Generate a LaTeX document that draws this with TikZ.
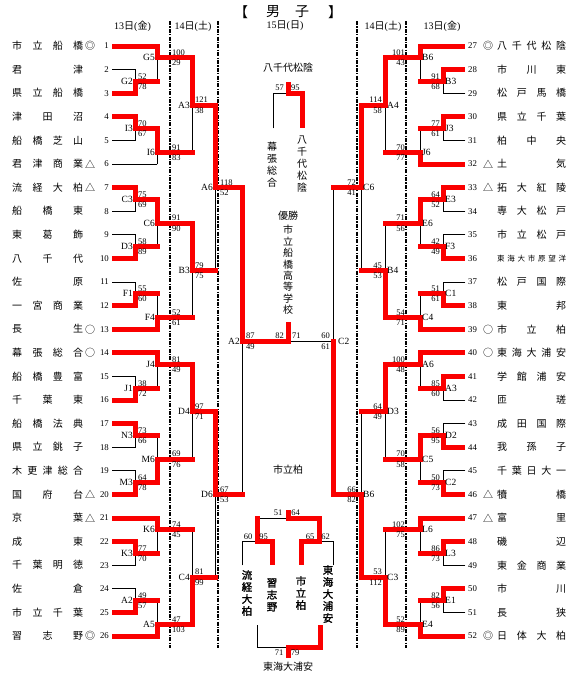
\documentclass[tikz,border=0pt]{standalone}
\usepackage{fontspec}
\setmainfont{Liberation Serif}
\newfontfamily\jp{Noto Sans CJK JP}
\newfontfamily\jpb{Noto Sans CJK JP}[FakeBold=1.5]
\pgfdeclarelayer{bg}
\pgfsetlayers{bg,main}
\definecolor{wred}{RGB}{250,0,0}
\tikzset{
  win/.style={draw=wred, line width=5pt, line cap=rect, line join=miter},
  lose/.style={draw=black, line width=0.9pt, line cap=rect},
  sc/.style={font=\fontsize{8.5}{9}\selectfont, inner sep=0pt},
  lb/.style={font=\fontsize{9.5}{10}\selectfont, inner sep=0pt},
  nm/.style={font=\jp\fontsize{10}{10}\selectfont, inner sep=0pt},
  tnum/.style={font=\fontsize{8.8}{10}\selectfont, inner sep=0pt},
  mk/.style={font=\jp\fontsize{10}{10}\selectfont, inner sep=0pt},
  dd/.style={line width=1.1pt, dash pattern=on 4pt off 1.3pt on 1.2pt off 1.3pt},
  vt/.style={font=\jp\fontsize{10}{12}\selectfont, align=center, inner sep=0pt},
  vtc/.style={font=\jp\fontsize{10}{11.4}\selectfont, align=center, inner sep=0pt},
  vtb/.style={font=\jpb\fontsize{10.5}{12}\selectfont, align=center, inner sep=0pt},
  ht/.style={font=\jp\fontsize{10}{10}\selectfont, inner sep=0pt},
  dt/.style={font=\fontsize{10}{10}\selectfont, inner sep=0pt},
}
% left match: X, Xnext, kwin, klose, kout, label, upper score, lower score, score x
\newcommand\LM[9]{%
  \begin{pgfonlayer}{bg}\draw[lose] (#1,#4) -- (#1,#5);\end{pgfonlayer}
  \draw[win] (#1,#3) -- (#1,#5) -- (#2,#5);
  \node[lb,anchor=east,xshift=-2pt] (L#1#6) at (#1,#5) {#6};
  \node[sc,anchor=base west,yshift=2.2pt] (L#1#6u) at (#9,#5) {#7};
  \node[sc,anchor=north west,yshift=-2.2pt] (L#1#6d) at (#9,#5) {#8};
}
\newcommand\RM[9]{%
  \begin{pgfonlayer}{bg}\draw[lose] (#1,#4) -- (#1,#5);\end{pgfonlayer}
  \draw[win] (#1,#3) -- (#1,#5) -- (#2,#5);
  \node[lb,anchor=west,xshift=2pt] (R#1#6) at (#1,#5) {#6};
  \node[sc,anchor=base east,yshift=2.2pt] (R#1#6u) at (#9,#5) {#7};
  \node[sc,anchor=north east,yshift=-2.2pt] (R#1#6d) at (#9,#5) {#8};
}
% team: number, name, mark, X, w/l
\newcommand\LT[5]{%
  \pgfmathtruncatemacro\kk{2*(#1-1)}%
  \node[nm,anchor=west] (ln#1) at (12,\kk) {\makebox[71pt]{#2}};
  \node[mk] (lm#1) at (90,\kk) {#3};
  \node[tnum,anchor=east] (lt#1) at (109,\kk) {#1};
  \if#5w\draw[win] (114.5,\kk) -- (#4,\kk);
  \else\begin{pgfonlayer}{bg}\draw[lose] (112,\kk) -- (#4,\kk);\end{pgfonlayer}\fi
}
\newcommand\RT[5]{%
  \pgfmathtruncatemacro\kk{2*(#1-27)}%
  \node[nm,anchor=west] (rn#1) at (497,\kk) {\makebox[69pt]{#2}};
  \node[mk] (rm#1) at (488,\kk) {#3};
  \node[tnum,anchor=west] (rt#1) at (468,\kk) {#1};
  \if#5w\draw[win] (462.5,\kk) -- (#4,\kk);
  \else\begin{pgfonlayer}{bg}\draw[lose] (465,\kk) -- (#4,\kk);\end{pgfonlayer}\fi
}
\begin{document}
\begin{tikzpicture}[x=1pt,y=-1pt]
\useasboundingbox (0,0) rectangle (578,680);
\begin{pgfonlayer}{bg}
\fill[white] (0,0) rectangle (578,680);
\foreach \xx in {170,218,357,406} \draw[dd] (\xx,21) -- (\xx,648);
\end{pgfonlayer}
% title and dates
\node[font=\jp\fontsize{14}{14}\selectfont, inner sep=0pt] (t1) at (241,12) {【};
\node[font=\jp\fontsize{14}{14}\selectfont, inner sep=0pt] (t2) at (273,12) {男};
\node[font=\jp\fontsize{14}{14}\selectfont, inner sep=0pt] (t3) at (302,12) {子};
\node[font=\jp\fontsize{14}{14}\selectfont, inner sep=0pt] (t4) at (335,12) {】};
\node[dt] (d1) at (132.5,26) {13{\jp 日}({\jp 金})};
\node[dt] (d2) at (193,26) {14{\jp 日}({\jp 土})};
\node[dt] (d3) at (285,26) {15{\jp 日}({\jp 日})};
\node[dt] (d4) at (383,26) {14{\jp 日}({\jp 土})};
\node[dt] (d5) at (442,26) {13{\jp 日}({\jp 金})};
% top centre match
\node[ht] (yc) at (288,68) {八千代松陰};
\begin{pgfonlayer}{bg}\draw[lose] (273,128) -- (273,93) -- (288,93);\end{pgfonlayer}
\draw[win] (302,125.5) -- (302,93) -- (288,93) -- (288,84.5);
\node[sc,anchor=base east] (s57) at (284,90.5) {57};
\node[sc,anchor=base west] (s95) at (291,90.5) {95};
\node[vt] (vmk) at (272,164.5) {幕\\張\\総\\合};
\node[vt] (vyc) at (302,164) {八\\千\\代\\松\\陰};
% champion
\node[ht] (yusho) at (288,215.5) {優勝};
\node[vtc] (champ) at (288,270) {市\\立\\船\\橋\\高\\等\\学\\校};
\node[ht] (ichika) at (288,470) {市立柏};
% bottom centre brackets
\begin{pgfonlayer}{bg}
\draw[lose] (242,565) -- (242,541) -- (257,541);
\draw[lose] (257,518) -- (288,518);
\draw[lose] (333,565) -- (333,541) -- (319,541);
\draw[lose] (257,625) -- (257,647) -- (288,647);
\end{pgfonlayer}
\draw[win] (272,562.5) -- (272,541) -- (257,541) -- (257,518);
\draw[win] (301,562.5) -- (301,541) -- (319,541) -- (319,518) -- (288,518) -- (288,512.5);
\draw[win] (320,627.5) -- (320,647) -- (288,647) -- (288,655.5);
\node[sc] (b51) at (278,513) {51};
\node[sc] (b64) at (295.5,513) {64};
\node[sc] (b60) at (248,536.5) {60};
\node[sc] (b95) at (263.5,536.5) {95};
\node[sc] (b65) at (310,536.5) {65};
\node[sc] (b62) at (325.5,536.5) {62};
\node[sc] (b71) at (279,652.5) {71};
\node[sc] (b79) at (295,653) {79};
\node[vtb] (bt1) at (247,593) {流\\経\\大\\柏};
\node[vtb] (bt2) at (272,595) {習\\志\\野};
\node[vtb] (bt3) at (301,593) {市\\立\\柏};
\node[vtb] (bt4) at (328,594) {東\\海\\大\\浦\\安};
\node[ht] (third) at (288,667) {東海大浦安};
% ---------------- grid part
\begin{scope}[y=-11.8pt,yshift=-46pt]
% left teams
\LT{1}{市\hfill 立\hfill 船\hfill 橋}{◎}{157}{w}
\LT{2}{君\hfill 津}{}{135}{l}
\LT{3}{県\hfill 立\hfill 船\hfill 橋}{}{135}{w}
\LT{4}{津\hfill 田\hfill 沼}{}{135}{w}
\LT{5}{船\hfill 橋\hfill 芝\hfill 山}{}{135}{l}
\LT{6}{君\hfill 津\hfill 商\hfill 業}{△}{157}{l}
\LT{7}{流\hfill 経\hfill 大\hfill 柏}{△}{135}{w}
\LT{8}{船\hfill 橋\hfill 東}{}{135}{l}
\LT{9}{東\hfill 葛\hfill 飾}{}{135}{l}
\LT{10}{八\hfill 千\hfill 代}{}{135}{w}
\LT{11}{佐\hfill 原}{}{135}{l}
\LT{12}{一\hfill 宮\hfill 商\hfill 業}{}{135}{w}
\LT{13}{長\hfill 生}{○}{157}{w}
\LT{14}{幕\hfill 張\hfill 総\hfill 合}{○}{157}{w}
\LT{15}{船\hfill 橋\hfill 豊\hfill 富}{}{135}{l}
\LT{16}{千\hfill 葉\hfill 東}{}{135}{w}
\LT{17}{船\hfill 橋\hfill 法\hfill 典}{}{135}{w}
\LT{18}{県\hfill 立\hfill 銚\hfill 子}{}{135}{l}
\LT{19}{木\hfill 更\hfill 津\hfill 総\hfill 合}{}{135}{l}
\LT{20}{国\hfill 府\hfill 台}{△}{135}{w}
\LT{21}{京\hfill 葉}{△}{157}{w}
\LT{22}{成\hfill 東}{}{135}{w}
\LT{23}{千\hfill 葉\hfill 明\hfill 徳}{}{135}{l}
\LT{24}{佐\hfill 倉}{}{135}{l}
\LT{25}{市\hfill 立\hfill 千\hfill 葉}{}{135}{w}
\LT{26}{習\hfill 志\hfill 野}{◎}{157}{w}
% right teams
\RT{27}{八\hfill 千\hfill 代\hfill 松\hfill 陰}{◎}{420}{w}
\RT{28}{市\hfill 川\hfill 東}{}{443}{w}
\RT{29}{松\hfill 戸\hfill 馬\hfill 橋}{}{443}{l}
\RT{30}{県\hfill 立\hfill 千\hfill 葉}{}{443}{w}
\RT{31}{柏\hfill 中\hfill 央}{}{443}{l}
\RT{32}{土\hfill 気}{△}{420}{w}
\RT{33}{拓\hfill 大\hfill 紅\hfill 陵}{△}{443}{w}
\RT{34}{専\hfill 大\hfill 松\hfill 戸}{}{443}{l}
\RT{35}{市\hfill 立\hfill 松\hfill 戸}{}{443}{l}
\RT{36}{\fontsize{7.5}{8}\selectfont 東\hfill 海\hfill 大\hfill 市\hfill 原\hfill 望\hfill 洋}{}{443}{w}
\RT{37}{松\hfill 戸\hfill 国\hfill 際}{}{443}{l}
\RT{38}{東\hfill 邦}{}{443}{w}
\RT{39}{市\hfill 立\hfill 柏}{○}{420}{w}
\RT{40}{東\hfill 海\hfill 大\hfill 浦\hfill 安}{○}{420}{w}
\RT{41}{学\hfill 館\hfill 浦\hfill 安}{}{443}{w}
\RT{42}{匝\hfill 瑳}{}{443}{l}
\RT{43}{成\hfill 田\hfill 国\hfill 際}{}{443}{l}
\RT{44}{我\hfill 孫\hfill 子}{}{443}{w}
\RT{45}{千\hfill 葉\hfill 日\hfill 大\hfill 一}{}{443}{l}
\RT{46}{犢\hfill 橋}{△}{443}{w}
\RT{47}{富\hfill 里}{△}{420}{w}
\RT{48}{磯\hfill 辺}{}{443}{w}
\RT{49}{東\hfill 金\hfill 商\hfill 業}{}{443}{l}
\RT{50}{市\hfill 川}{}{443}{w}
\RT{51}{長\hfill 狭}{}{443}{l}
\RT{52}{日\hfill 体\hfill 大\hfill 柏}{◎}{420}{w}
% left round 1
\LM{135}{157}{4}{2}{3}{G2}{52}{78}{138}
\LM{135}{157}{6}{8}{7}{I3}{70}{67}{138}
\LM{135}{157}{12}{14}{13}{C3}{75}{69}{138}
\LM{135}{157}{18}{16}{17}{D3}{58}{89}{138}
\LM{135}{157}{22}{20}{21}{F1}{55}{60}{138}
\LM{135}{157}{30}{28}{29}{J1}{38}{72}{138}
\LM{135}{157}{32}{34}{33}{N3}{73}{66}{138}
\LM{135}{157}{38}{36}{37}{M3}{64}{78}{138}
\LM{135}{157}{42}{44}{43}{K3}{77}{70}{138}
\LM{135}{157}{48}{46}{47}{A2}{49}{57}{138}
% left round 2
\LM{157}{192}{0}{3}{1}{G5}{100}{29}{172}
\LM{157}{192}{7}{10}{9}{I6}{91}{83}{172}
\LM{157}{192}{13}{17}{15}{C6}{91}{90}{172}
\LM{157}{192}{24}{21}{23}{F4}{52}{61}{172}
\LM{157}{192}{26}{29}{27}{J4}{81}{49}{172}
\LM{157}{192}{37}{33}{35}{M6}{69}{76}{172}
\LM{157}{192}{40}{43}{41}{K6}{74}{45}{172}
\LM{157}{192}{50}{47}{49}{A5}{47}{103}{172}
% left round 3
\LM{192}{215}{1}{9}{5}{A3}{121}{38}{195}
\LM{192}{215}{15}{23}{19}{B3}{79}{75}{195}
\LM{192}{215}{27}{35}{31}{D4}{97}{71}{195}
\LM{192}{215}{49}{41}{45}{C4}{81}{99}{195}
% left round 4
\LM{215}{242}{5}{19}{12}{A6}{118}{52}{220}
\LM{215}{242}{31}{45}{38}{D6}{67}{53}{220}
% left semi
\LM{242}{288}{12}{38}{25}{A2}{87}{49}{246}
% right round 1
\RM{443}{420}{2}{4}{3}{B3}{91}{68}{440}
\RM{443}{420}{6}{8}{7}{J3}{77}{61}{440}
\RM{443}{420}{12}{14}{13}{E3}{64}{52}{440}
\RM{443}{420}{18}{16}{17}{F3}{42}{49}{440}
\RM{443}{420}{22}{20}{21}{C1}{51}{61}{440}
\RM{443}{420}{28}{30}{29}{A3}{85}{60}{440}
\RM{443}{420}{34}{32}{33}{D2}{56}{95}{440}
\RM{443}{420}{38}{36}{37}{C2}{50}{73}{440}
\RM{443}{420}{42}{44}{43}{L3}{86}{73}{440}
\RM{443}{420}{46}{48}{47}{E1}{82}{56}{440}
% right round 2
\RM{420}{385}{0}{3}{1}{B6}{101}{43}{405}
\RM{420}{385}{10}{7}{9}{J6}{70}{77}{405}
\RM{420}{385}{13}{17}{15}{E6}{71}{56}{405}
\RM{420}{385}{24}{21}{23}{C4}{54}{71}{405}
\RM{420}{385}{26}{29}{27}{A6}{100}{48}{405}
\RM{420}{385}{33}{37}{35}{C5}{70}{58}{405}
\RM{420}{385}{40}{43}{41}{L6}{102}{75}{405}
\RM{420}{385}{50}{47}{49}{E4}{52}{89}{405}
% right round 3
\RM{385}{361}{1}{9}{5}{A4}{114}{58}{382}
\RM{385}{361}{23}{15}{19}{B4}{45}{53}{382}
\RM{385}{361}{27}{35}{31}{D3}{64}{49}{382}
\RM{385}{361}{49}{41}{45}{C3}{53}{112}{382}
% right round 4
\RM{361}{333}{5}{19}{12}{C6}{72}{41}{356}
\RM{361}{333}{45}{31}{38}{B6}{66}{82}{356}
% right semi
\begin{pgfonlayer}{bg}\draw[lose] (333,12) -- (333,25) -- (290,25);\end{pgfonlayer}
\draw[win] (333,38) -- (333,25);
\node[lb,anchor=west] (RsfC2) at (338,25) {C2};
\node[sc,anchor=base east,yshift=2.2pt] (RsfC2u) at (330,25) {60};
\node[sc,anchor=north east,yshift=-2.2pt] (RsfC2d) at (330,25) {61};
% final
\draw[win] (288,25) -- (288,23.6);
\node[sc,anchor=base east,yshift=2.2pt] (F82) at (284,25) {82};
\node[sc,anchor=base west,yshift=2.2pt] (F71) at (292,25) {71};
\end{scope}
\end{tikzpicture}
\end{document}
